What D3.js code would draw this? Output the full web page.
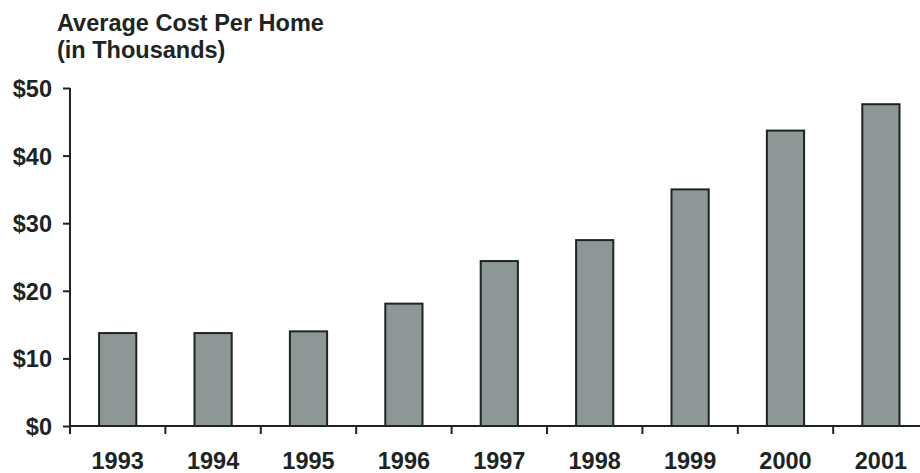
<!DOCTYPE html>
<html>
<head>
<meta charset="utf-8">
<script src="https://cdn.jsdelivr.net/npm/d3@7"></script>
<style>
  html, body { margin: 0; padding: 0; background: #fff; }
  svg { display: block; }
  text { font-family: "Liberation Sans", Arial, Helvetica, sans-serif; font-weight: bold; fill: #1c2424; }
</style>
</head>
<body>
<svg id="chart" width="920" height="473"></svg>
<script>
const years = ["1993", "1994", "1995", "1996", "1997", "1998", "1999", "2000", "2001"];
const costs = [13.75, 13.75, 14.0, 18.1, 24.4, 27.5, 35.0, 43.7, 47.6];
const yTicks = [0, 10, 20, 30, 40, 50];
const titleLines = ["Average Cost Per Home", "(in Thousands)"];

const W = 920, H = 473;
const ink = "#1c2424";
const svg = d3.select("#chart");

const x0 = 70, step = 95.4;
const x = d3.scaleBand()
  .domain(years)
  .range([x0, x0 + step * years.length])
  .paddingInner(0.61)
  .paddingOuter(0.305);

const y = d3.scaleLinear().domain([0, 50]).range([426, 88]);

// title
svg.append("g").selectAll("text")
  .data(titleLines)
  .join("text")
  .attr("x", 57)
  .attr("y", (d, i) => 31 + i * 27)
  .style("font-size", "23.5px")
  .text(d => d);

// bars
svg.append("g").selectAll("rect")
  .data(years.map((yr, i) => ({ yr, v: costs[i] })))
  .join("rect")
  .attr("x", d => x(d.yr))
  .attr("width", x.bandwidth())
  .attr("y", d => y(d.v))
  .attr("height", d => y(0) - y(d.v))
  .attr("fill", "#8f9696")
  .attr("stroke", ink)
  .attr("stroke-width", 2);

// y axis
const yAxis = svg.append("g")
  .attr("transform", `translate(${x0},0)`)
  .call(d3.axisLeft(y).tickValues(yTicks).tickFormat(d => "$" + d).tickSize(7).tickPadding(11));
yAxis.select(".domain").attr("stroke", ink).attr("stroke-width", 2).attr("d", `M0,${y(50)}H0V${y(0)}`);
yAxis.selectAll(".tick line").attr("stroke", ink).attr("stroke-width", 2);
yAxis.selectAll(".tick text").style("font-size", "23.5px").attr("fill", ink).attr("dy", "0.36em");

// x axis
const xAxisG = svg.append("g").attr("transform", `translate(0,${y(0)})`);
xAxisG.append("line")
  .attr("x1", x0).attr("x2", W)
  .attr("stroke", ink).attr("stroke-width", 2);
const bounds = d3.range(years.length + 1).map(i => x0 + i * x.step());
xAxisG.selectAll("line.tk")
  .data(bounds)
  .join("line")
  .attr("class", "tk")
  .attr("x1", d => d).attr("x2", d => d)
  .attr("y1", 0).attr("y2", 8)
  .attr("stroke", ink).attr("stroke-width", 2);
xAxisG.selectAll("text")
  .data(years)
  .join("text")
  .attr("x", d => x(d) + x.bandwidth() / 2)
  .attr("y", 43)
  .attr("text-anchor", "middle")
  .style("font-size", "23.5px")
  .text(d => d);
</script>
</body>
</html>
